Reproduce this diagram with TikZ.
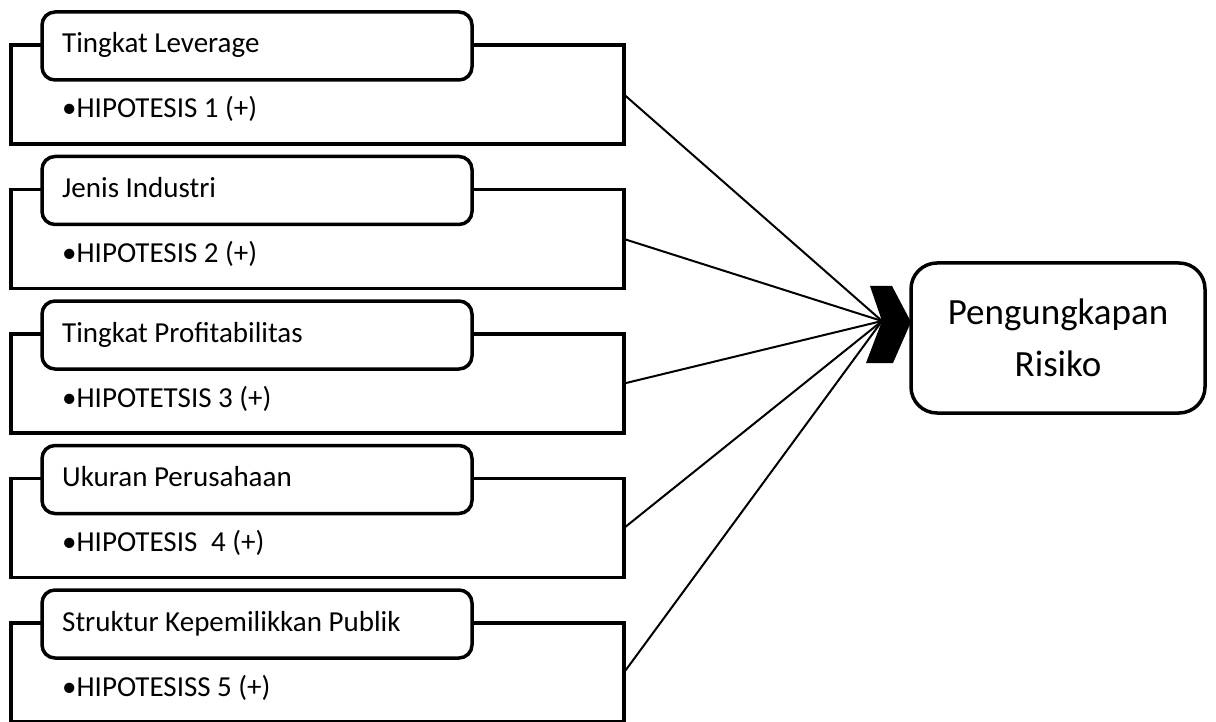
\documentclass[tikz,border=0pt]{standalone}
\usepackage{fontspec}
\setmainfont{Carlito}
\begin{document}
\begin{tikzpicture}[x=1pt,y=-1pt,
  frame/.style={draw, line width=3.5pt, rectangle, minimum width=613pt, minimum height=99pt, inner sep=0pt, outer sep=0pt},
  titlebox/.style={draw, fill=white, line width=3.5pt, rounded corners=13pt, minimum width=430pt, minimum height=68pt, inner sep=0pt},
  lbl/.style={anchor=base west, inner sep=0pt, font=\fontsize{29}{34}\selectfont},
  link/.style={line width=2pt},
  target/.style={draw, line width=3.5pt, rounded corners=26pt, minimum width=294pt, minimum height=150pt, inner sep=0pt, align=center, font=\fontsize{37}{52}\selectfont}]
\useasboundingbox (0,0) rectangle (1216,722);

\coordinate (hub) at (882,321);

\foreach \i/\t/\h in {1/Tingkat Leverage/HIPOTESIS 1 (+),
                      2/Jenis Industri/HIPOTESIS 2 (+),
                      3/Tingkat Profitabilitas/HIPOTETSIS 3 (+),
                      4/Ukuran Perusahaan/HIPOTESIS\hspace{0.25em} 4 (+),
                      5/Struktur Kepemilikkan Publik/HIPOTESISS 5 (+)} {
  \pgfmathsetmacro{\dy}{144.5*(\i-1)}
  \node[frame] (r\i) at (317.5, 94.5+\dy) {};
  \node[titlebox] (t\i) at (257, 46+\dy) {};
  \node[lbl] (n\i) at (62, 53+\dy) {\t};
  \node[lbl] (h\i) at (62, 118+\dy) {•\h};
  \draw[link] (r\i.east) -- (hub);
}

\node[target] (res) at (1058, 338) {Pengungkapan\\Risiko};

\fill (870,286) -- (892,286) -- (911,322) -- (893,363) -- (866,363) -- (882,321) -- cycle;
\end{tikzpicture}
\end{document}
